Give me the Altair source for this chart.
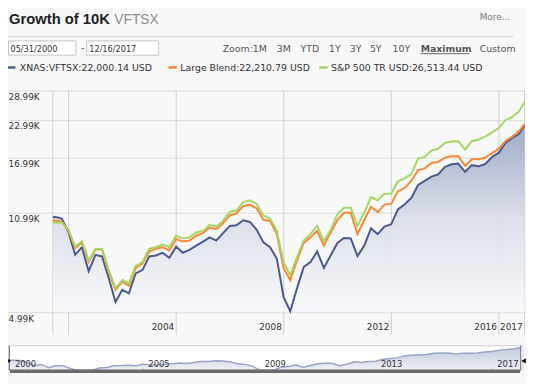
import altair as alt
import pandas as pd

# ---------------- data ----------------
dates = [
    "2000-05-31", "2000-06-30", "2000-09-30", "2000-12-31",
    "2001-03-31", "2001-06-30", "2001-09-30", "2001-12-31",
    "2002-03-31", "2002-06-30", "2002-09-30", "2002-12-31",
    "2003-03-31", "2003-06-30", "2003-09-30", "2003-12-31",
    "2004-03-31", "2004-06-30", "2004-09-30", "2004-12-31",
    "2005-03-31", "2005-06-30", "2005-09-30", "2005-12-31",
    "2006-03-31", "2006-06-30", "2006-09-30", "2006-12-31",
    "2007-03-31", "2007-06-30", "2007-09-30", "2007-12-31",
    "2008-03-31", "2008-06-30", "2008-09-30", "2008-12-31",
    "2009-03-31", "2009-06-30", "2009-09-30", "2009-12-31",
    "2010-03-31", "2010-06-30", "2010-09-30", "2010-12-31",
    "2011-03-31", "2011-06-30", "2011-09-30", "2011-12-31",
    "2012-03-31", "2012-06-30", "2012-09-30", "2012-12-31",
    "2013-03-31", "2013-06-30", "2013-09-30", "2013-12-31",
    "2014-03-31", "2014-06-30", "2014-09-30", "2014-12-31",
    "2015-03-31", "2015-06-30", "2015-09-30", "2015-12-31",
    "2016-03-31", "2016-06-30", "2016-09-30", "2016-12-31",
    "2017-03-31", "2017-06-30", "2017-09-30", "2017-12-16",
]
vftsx = [
    10570, 10650, 10490, 9400,
    7870, 8360, 6910, 7870,
    7770, 6530, 5410, 5960,
    5800, 6790, 6970, 7770,
    7830, 8000, 7690, 8400,
    8000, 8190, 8470, 8740,
    9040, 8810, 9350, 9900,
    9950, 10350, 10220, 9600,
    8690, 8360, 7630, 5610,
    5030, 6030, 7150, 7430,
    8080, 7090, 7830, 8650,
    8990, 8970, 7790, 8470,
    9700, 9280, 9850, 10030,
    11280, 11730, 12360, 13710,
    14150, 14640, 14910, 15830,
    16160, 16250, 15220, 16040,
    15910, 16160, 17120, 17710,
    19100, 19910, 20540, 22000.14,
]
large_blend = [
    10300, 10330, 10240, 9520,
    8290, 8690, 7430, 8210,
    8210, 6840, 5960, 6360,
    6160, 7090, 7340, 8080,
    8250, 8360, 8140, 8920,
    8760, 8810, 9160, 9350,
    9770, 9650, 10110, 10760,
    10930, 11580, 11700, 11400,
    10380, 10300, 9280, 7060,
    6440, 7530, 8650, 9040,
    9520, 8470, 9400, 10380,
    10990, 10990, 9280, 10380,
    11520, 11050, 11730, 11790,
    13020, 13360, 14150, 15420,
    15630, 16330, 16460, 17030,
    17210, 17210, 15950, 16810,
    16810, 17030, 17660, 18270,
    19400, 20120, 20980, 22210.79,
]
sp500 = [
    10160, 10190, 10160, 9600,
    8400, 8760, 7530, 8250,
    8250, 6970, 6030, 6440,
    6270, 7200, 7430, 8250,
    8360, 8540, 8360, 9160,
    8970, 9040, 9400, 9520,
    9980, 9850, 10300, 11080,
    11190, 11950, 12130, 11790,
    10760, 10490, 9520, 7390,
    6700, 7730, 8810, 9280,
    9900, 8760, 9600, 10850,
    11430, 11430, 9900, 10990,
    12450, 12130, 12780, 12780,
    14080, 14450, 14950, 16900,
    17120, 18030, 18270, 19150,
    19350, 19400, 18170, 19400,
    19650, 20120, 20810, 21530,
    22920, 23520, 24520, 26513.44,
]

y_ticks = [4990, 10990, 16990, 22990, 28990]
grid_dates = ["2000-05-31", "2001-01-01", "2005-01-01", "2009-01-01",
              "2013-01-01", "2017-01-01", "2017-12-16"]
xlabel_dates = ["2005-01-01", "2009-01-01", "2013-01-01", "2017-01-01", "2017-12-16"]
xlabel_text = ["2004", "2008", "2012", "2016", "2017"]
nav_label_dates = ["2000-05-31", "2005-01-01", "2009-01-01", "2013-01-01", "2017-01-01"]
nav_label_text = ["2000", "2005", "2009", "2013", "2017"]
nav_tick_dates = ["2001-01-01", "2005-01-01", "2009-01-01", "2013-01-01", "2017-01-01"]

series_names = ["XNAS:VFTSX", "Large Blend", "S&P 500 TR USD"]
series_last = ["22,000.14", "22,210.79", "26,513.44"]

# ---------------- geometry & style ----------------
W, H = 479, 225
X0, Y0 = 53.5, 89.0          # screen position of plot origin (page margin 8)
BLUE, ORANGE, GREEN = "#4b5a8e", "#fb8636", "#a5d663"
GRID = "#d9d9d9"
FONT = "DejaVu Sans"

df = pd.DataFrame({"date": pd.to_datetime(dates), "vftsx": vftsx,
                   "blend": large_blend, "sp": sp500})
dummy = pd.DataFrame({"k": [0]})

dom = [alt.DateTime(year=2000, month=5, date=31), alt.DateTime(year=2017, month=12, date=16)]
xs = alt.Scale(domain=dom)
ys = alt.Scale(type="log", domain=[4990, 28990])

yaxis = alt.Axis(values=y_ticks, labelExpr="format(datum.value/1000, '.2f') + 'K'",
                 title=None, domain=False, ticks=True, tickSize=45.5, tickColor=GRID,
                 grid=True, gridColor=GRID, labelAlign="left", labelBaseline="top",
                 labelPadding=0, labelOffset=2, labelFont=FONT, labelFontSize=9,
                 labelColor="#333333", labelOverlap=False, labelFlush=False)

X = alt.X("date:T", scale=xs, axis=None)

area = alt.Chart(df).mark_area(
    fill=alt.Gradient(gradient="linear",
                      stops=[alt.GradientStop(color="#97a2c2", offset=0),
                             alt.GradientStop(color="#d9dde8", offset=0.5),
                             alt.GradientStop(color="#f8f9fb", offset=1)],
                      x1=1, x2=1, y1=0, y2=1),
    fillOpacity=0.9, line=False,
).encode(x=X, y=alt.Y("vftsx:Q", scale=ys, axis=yaxis), y2=alt.datum(4990))

vgrid = alt.Chart(pd.DataFrame({"d": pd.to_datetime(grid_dates)})).mark_rule(
    color="#d0d0d0", strokeWidth=1
).encode(x=alt.X("d:T", scale=xs, axis=None), y=alt.value(0), y2=alt.value(248))

xlab = alt.Chart(pd.DataFrame({"d": pd.to_datetime(xlabel_dates), "t": xlabel_text})).mark_text(
    align="right", dx=-2, baseline="alphabetic", font=FONT, fontSize=9, color="#333333"
).encode(x=alt.X("d:T", scale=xs, axis=None), y=alt.value(243), text="t:N")

def series_line(field, color):
    return alt.Chart(df).mark_line(color=color, strokeWidth=2).encode(
        x=X, y=alt.Y(f"{field}:Q", scale=ys, axis=yaxis))

main = alt.layer(vgrid, area, series_line("vftsx", BLUE), series_line("blend", ORANGE),
                 series_line("sp", GREEN), xlab)

# ---------------- navigator ----------------
def px(sx):
    return sx - X0

def py(sy):
    return sy - Y0

nxs = alt.Scale(domain=dom, range=[px(10), px(528)])
nys = alt.Scale(type="log", domain=[5940, 22000], range=[py(373), py(350)], clamp=True)
NX = alt.X("date:T", scale=nxs, axis=None)

def rect(sx1, sy1, sx2, sy2, **kw):
    return alt.Chart(dummy).mark_rect(**kw).encode(
        x=alt.value(px(sx1)), x2=alt.value(px(sx2)), y=alt.value(py(sy1)), y2=alt.value(py(sy2)))

def hline(sx1, sx2, sy, color, w):
    return alt.Chart(dummy).mark_rule(color=color, strokeWidth=w).encode(
        x=alt.value(px(sx1)), x2=alt.value(px(sx2)), y=alt.value(py(sy)))

def vline(sx, sy1, sy2, color, w):
    return alt.Chart(dummy).mark_rule(color=color, strokeWidth=w).encode(
        x=alt.value(px(sx)), y=alt.value(py(sy1)), y2=alt.value(py(sy2)))

def txt(s, sx, sy, size=9.5, color="#333333", font=FONT, weight="normal"):
    return alt.Chart(dummy).mark_text(
        text=s, align="left", baseline="alphabetic", font=font, fontSize=size,
        fontWeight=weight, color=color).encode(x=alt.value(px(sx)), y=alt.value(py(sy)))

def tri(shape, sx, sy):
    return alt.Chart(dummy).mark_point(shape=shape, filled=True, size=28, color="#111111",
                                       opacity=1).encode(x=alt.value(px(sx)), y=alt.value(py(sy)))

nav_box = rect(8.5, 348, 530, 373, fill="#ffffff", stroke="#cccccc", strokeWidth=1)
nav_area = alt.Chart(df).mark_area(
    fill=alt.Gradient(gradient="linear",
                      stops=[alt.GradientStop(color="#c3cadd", offset=0),
                             alt.GradientStop(color="#eef0f5", offset=1)],
                      x1=1, x2=1, y1=0, y2=1)
).encode(x=NX, y=alt.Y("vftsx:Q", scale=nys, axis=None), y2=alt.value(py(373)))
nav_line = alt.Chart(df).mark_line(color="#98a4c7", strokeWidth=1.5).encode(
    x=NX, y=alt.Y("vftsx:Q", scale=nys, axis=None))
nav_ticks = alt.Chart(pd.DataFrame({"d": pd.to_datetime(nav_tick_dates)})).mark_rule(
    color="#b5dc7f", strokeWidth=1
).encode(x=alt.X("d:T", scale=nxs, axis=None), y=alt.value(py(370)), y2=alt.value(py(372)))
nav_labels = alt.Chart(pd.DataFrame({"d": pd.to_datetime(nav_label_dates), "t": nav_label_text})).mark_text(
    align="left", dx=5, baseline="alphabetic", font=FONT, fontSize=8.5, color="#333333"
).encode(x=alt.X("d:T", scale=nxs, axis=None), y=alt.value(py(370)), text="t:N")
nav_bar = rect(10, 372.3, 528, 375.8, fill="#6a6a6a")

nav = alt.layer(nav_box, nav_area, nav_line, nav_ticks, nav_bar, nav_labels,
                vline(9.5, 348, 373, "#777777", 1), vline(528.5, 348, 373, "#777777", 1),
                tri("triangle-right", 9, 363.5), tri("triangle-left", 531.5, 363.5))

# ---------------- header decorations ----------------
deco = [
    txt("Growth of 10K", 9, 21.5, size=15, color="#222222", font="Liberation Sans", weight="bold"),
    txt("VFTSX", 116, 21.5, size=14, color="#8c8c8c", font="Liberation Sans"),
    txt("More...", 487, 17.5, size=9, color="#777777"),
    hline(8, 521, 34, "#dddddd", 1.5),
    rect(8.5, 38.5, 77, 53, fill="#ffffff", stroke="#c4c4c4", strokeWidth=1),
    rect(88, 38.5, 161, 53, fill="#ffffff", stroke="#c4c4c4", strokeWidth=1),
    txt("05/31/2000", 10.5, 49.3, size=8.3),
    txt("-", 82.5, 48.5, size=9),
    txt("12/16/2017", 90.5, 49.3, size=8.3),
    txt("Zoom:1M", 226, 49.3, color="#555555"),
    txt("3M", 281, 49.3, color="#555555"),
    txt("YTD", 305, 49.3, color="#555555"),
    txt("1Y", 334, 49.3, color="#555555"),
    txt("3Y", 355, 49.3, color="#555555"),
    txt("5Y", 375.5, 49.3, color="#555555"),
    txt("10Y", 398.5, 49.3, color="#555555"),
    txt("Maximum", 427, 49.3, color="#555555", weight="bold"),
    hline(427, 476.5, 51.5, "#666666", 1),
    txt("Custom", 487, 49.3, color="#555555"),
    hline(8, 15.5, 65.5, BLUE, 2.5),
    txt(f"{series_names[0]}:{series_last[0]} USD", 20, 68.8),
    hline(171, 179.5, 65.5, ORANGE, 2.5),
    txt(f"{series_names[1]}:{series_last[1]} USD", 183, 68.8),
    hline(324, 332.5, 65.5, GREEN, 2.5),
    txt(f"{series_names[2]}:{series_last[2]} USD", 336, 68.8),
]

chart = alt.layer(main, nav, *deco).resolve_scale(
    x="independent", y="independent"
).properties(
    width=W, height=H,
    padding={"left": 45.5, "top": 81, "right": 2.5, "bottom": 70},
    autosize=alt.AutoSizeParams(type="none"),
    background="#f8f8f8",
).configure_view(stroke=None)

chart.save("out.html", embed_options={"renderer": "svg", "actions": False})
